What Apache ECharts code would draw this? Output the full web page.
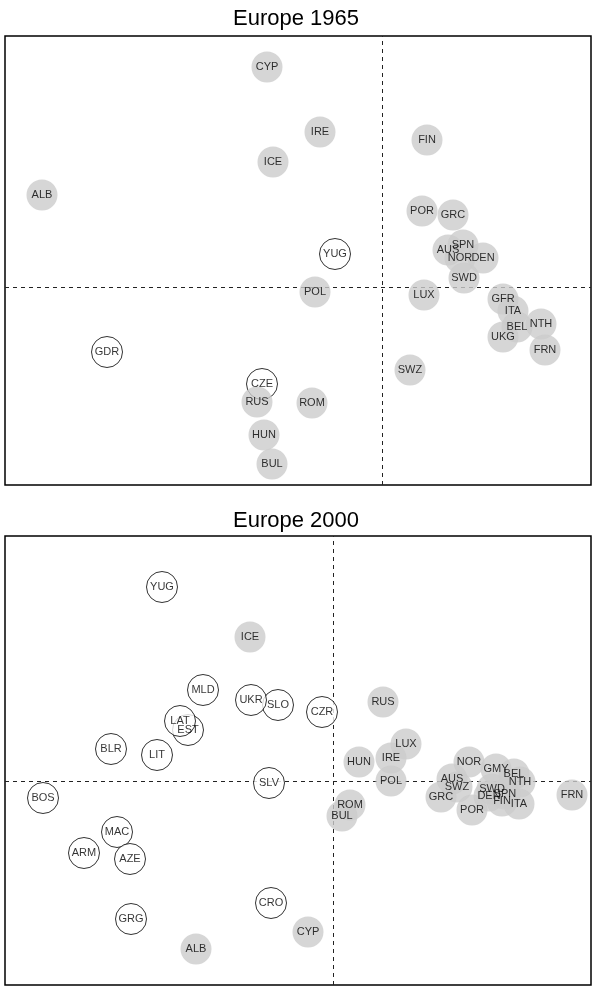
<!DOCTYPE html>
<html>
<head>
<meta charset="utf-8">
<script src="https://cdn.jsdelivr.net/npm/echarts@6/dist/echarts.min.js"></script>
<style>
  html, body { margin: 0; padding: 0; background: #fff; }
  #chart { width: 592px; height: 986px; }
</style>
</head>
<body>
<div id="chart"></div>
<script>
// Europe 1965: country codes, coordinates and fill ('g' = grey, 'w' = open)
const codes1965 = ['CYP','IRE','ICE','FIN','ALB','POR','GRC','YUG','AUS','SPN','NOR','DEN','SWD','LUX','POL',
  'GFR','ITA','BEL','NTH','UKG','FRN','SWZ','GDR','CZE','RUS','ROM','HUN','BUL'];
const x1965 = [-1.15,-0.62,-1.09,0.45,-3.40,0.40,0.71,-0.47,0.66,0.81,0.78,1.01,0.82,0.42,-0.67,
  1.21,1.31,1.35,1.59,1.21,1.63,0.28,-2.75,-1.20,-1.25,-0.70,-1.18,-1.10];
const y1965 = [2.20,1.55,1.25,1.47,0.92,0.76,0.72,0.33,0.37,0.42,0.29,0.29,0.09,-0.08,-0.05,
  -0.12,-0.24,-0.40,-0.37,-0.50,-0.63,-0.83,-0.65,-0.97,-1.15,-1.16,-1.48,-1.77];
const fill1965 = ['g','g','g','g','g','g','g','w','g','g','g','g','g','g','g',
  'g','g','g','g','g','g','g','w','w','g','g','g','g'];

// Europe 2000
const codes2000 = ['YUG','ICE','SLO','UKR','MLD','CZR','EST','LAT','LIT','BLR','SLV','BOS','MAC','ARM','AZE',
  'GRG','ALB','CRO','CYP','RUS','HUN','LUX','IRE','POL','BUL','ROM','NOR','GMY','BEL','NTH','AUS','SWZ',
  'GRC','POR','ITA','FIN','DEN','SPN','SWD','FRN'];
const x2000 = [-1.71,-0.83,-0.55,-0.82,-1.30,-0.11,-1.45,-1.53,-1.76,-2.22,-0.64,-2.90,-2.16,-2.49,-2.03,
  -2.02,-1.37,-0.62,-0.25,0.50,0.26,0.73,0.58,0.58,0.09,0.17,1.36,1.63,1.81,1.87,1.19,1.24,
  1.08,1.39,1.86,1.69,1.56,1.72,1.59,2.39];
const y2000 = [1.94,1.44,0.76,0.81,0.91,0.69,0.51,0.60,0.26,0.32,-0.02,-0.17,-0.51,-0.72,-0.78,
  -1.38,-1.68,-1.22,-1.51,0.79,0.19,0.37,0.23,0.00,-0.35,-0.24,0.19,0.12,0.07,-0.01,0.02,-0.06,
  -0.16,-0.29,-0.23,-0.20,-0.15,-0.13,-0.08,-0.14];
const fill2000 = ['w','g','w','w','w','w','w','w','w','w','w','w','w','w','w',
  'w','g','w','g','g','g','g','g','g','g','g','g','g','g','g','g','g',
  'g','g','g','g','g','g','g','g'];

const titles = ['Europe 1965', 'Europe 2000'];

const GREY = '#cccccc';
const FONT = '"Liberation Sans", Arial, Helvetica, sans-serif';

function points(codes, xs, ys, fills) {
  return codes.map((c, i) => ({
    name: c,
    value: [xs[i], ys[i]],
    itemStyle: fills[i] === 'g'
      ? { color: GREY, borderWidth: 0 }
      : { color: '#ffffff', borderColor: '#000000', borderWidth: 1 }
  }));
}

// dashed reference lines through the origin, kept beneath the markers
function crossSeries(idx) {
  return {
    type: 'scatter',
    xAxisIndex: idx,
    yAxisIndex: idx,
    z: 1,
    data: [],
    silent: true,
    markLine: {
      silent: true,
      symbol: 'none',
      label: { show: false },
      lineStyle: { color: '#222', type: [4, 4], width: 1 },
      data: [{ xAxis: 0 }, { yAxis: 0 }]
    }
  };
}

function pointSeries(idx, data) {
  return {
    type: 'scatter',
    xAxisIndex: idx,
    yAxisIndex: idx,
    z: 5,
    symbol: 'circle',
    symbolSize: 31,
    data: data,
    label: {
      show: true,
      position: 'inside',
      formatter: p => p.name,
      fontFamily: FONT,
      fontSize: 11,
      color: '#000'
    },
    emphasis: { disabled: true }
  };
}

const chart = echarts.init(document.getElementById('chart'), null, { renderer: 'canvas' });

const gridBox = { show: true, borderColor: '#000', borderWidth: 1.5, backgroundColor: 'transparent' };
const titleStyle = { fontFamily: FONT, fontSize: 22, fontWeight: 'normal', color: '#000' };

chart.setOption({
  animation: false,
  title: [
    { text: titles[0], left: 'center', top: 3, textStyle: titleStyle },
    { text: titles[1], left: 'center', top: 505, textStyle: titleStyle }
  ],
  grid: [
    Object.assign({ left: 5, right: 1, top: 36, height: 449 }, gridBox),
    Object.assign({ left: 5, right: 1, top: 536, height: 449 }, gridBox)
  ],
  xAxis: [
    { gridIndex: 0, type: 'value', min: -3.77, max: 2.09, show: false },
    { gridIndex: 1, type: 'value', min: -3.28, max: 2.58, show: false }
  ],
  yAxis: [
    { gridIndex: 0, type: 'value', min: -1.98, max: 2.51, show: false },
    { gridIndex: 1, type: 'value', min: -2.04, max: 2.45, show: false }
  ],
  series: [
    crossSeries(0),
    crossSeries(1),
    pointSeries(0, points(codes1965, x1965, y1965, fill1965)),
    pointSeries(1, points(codes2000, x2000, y2000, fill2000))
  ]
});
</script>
</body>
</html>
